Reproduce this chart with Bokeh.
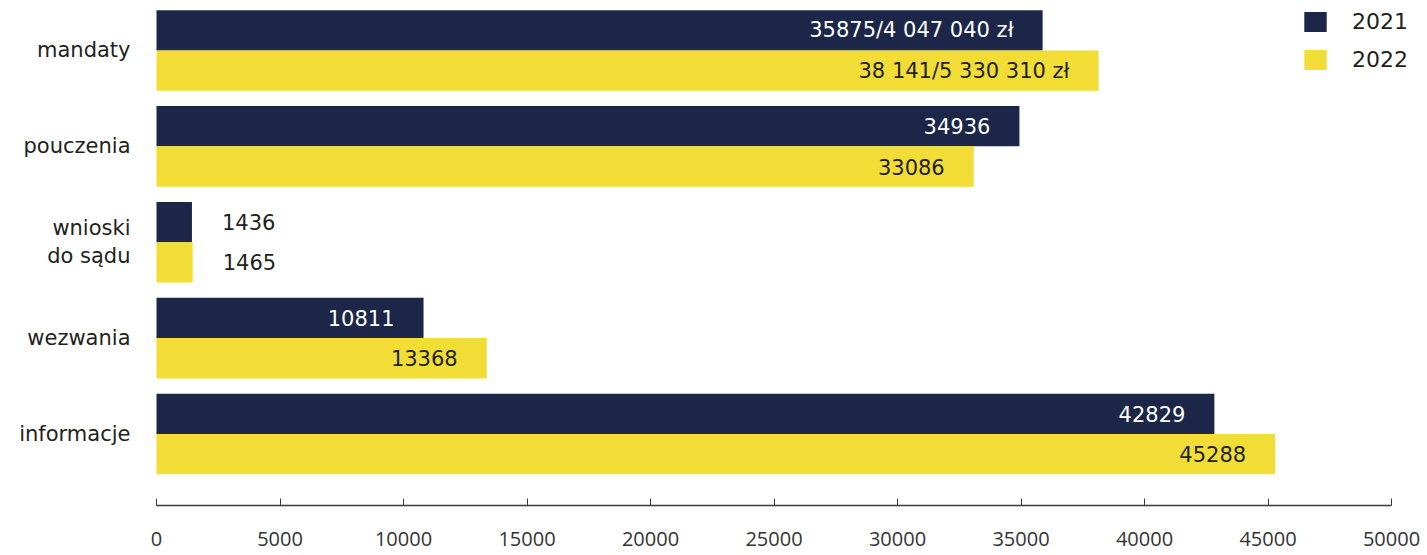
from bokeh.plotting import figure
from bokeh.models import ColumnDataSource, Range1d, FixedTicker, Legend, LegendItem
from bokeh.transform import dodge
from bokeh.core.properties import value
from bokeh.embed import file_html
from bokeh.resources import INLINE

categories = ["mandaty", "pouczenia", "wnioski\ndo sądu", "wezwania", "informacje"]
v2021 = [35875, 34936, 1436, 10811, 42829]
v2022 = [38141, 33086, 1465, 13368, 45288]
labels2021 = ["35875/4 047 040 zł", "34936", "1436", "10811", "42829"]
labels2022 = ["38 141/5 330 310 zł", "33086", "1465", "13368", "45288"]
ticks = list(range(0, 50001, 5000))
years = ["2021", "2022"]

NAVY = "#1b2649"
YELLOW = "#f1dd35"
DARK = "#231f20"
FONT = "DejaVu Sans"

idx = list(range(len(categories)))

def label_cols(vals, inside_color):
    xo, al, col = [], [], []
    for v in vals:
        if v < 5000:
            xo.append(30); al.append("left"); col.append(DARK)
        else:
            xo.append(-29); al.append("right"); col.append(inside_color)
    return xo, al, col

xo1, al1, c1 = label_cols(v2021, "white")
xo2, al2, c2 = label_cols(v2022, DARK)

src = ColumnDataSource(dict(idx=idx, cat=categories, v2021=v2021, v2022=v2022,
                            l2021=labels2021, l2022=labels2022,
                            xo1=xo1, al1=al1, c1=c1, xo2=xo2, al2=al2, c2=c2,
                            zero=[0] * len(idx)))

px_per = 0.0247
p = figure(frame_width=1427, frame_height=505, min_border=0, min_border_bottom=50,
           x_range=Range1d(-156 / px_per, (1427 - 156) / px_per),
           y_range=Range1d(4.746, -0.5215),
           output_backend="svg", toolbar_location=None, y_axis_location=None)
p.outline_line_color = None
p.xgrid.visible = False
p.ygrid.visible = False
p.background_fill_color = "white"
p.border_fill_color = "white"

r1 = p.hbar(y=dodge("idx", -0.21), left=0, right="v2021", height=0.42,
            color=NAVY, line_color=None, source=src)
r2 = p.hbar(y=dodge("idx", 0.21), left=0, right="v2022", height=0.42,
            color=YELLOW, line_color=None, source=src)

p.text(x="v2021", y=dodge("idx", -0.21), text="l2021", x_offset="xo1",
       text_align="al1", text_baseline="middle", text_color="c1",
       text_font=value(FONT), text_font_size="21px", source=src)
p.text(x="v2022", y=dodge("idx", 0.21), text="l2022", x_offset="xo2",
       text_align="al2", text_baseline="middle", text_color="c2",
       text_font=value(FONT), text_font_size="21px", source=src)

p.text(x="zero", y="idx", text="cat", x_offset=-26, text_align="right",
       text_baseline="middle", text_color=DARK, text_font=value(FONT),
       text_font_size="21px", text_line_height=1.15, source=src)

ax = p.xaxis[0]
ax.ticker = FixedTicker(ticks=ticks)
ax.bounds = (0, 50000)
ax.axis_line_color = "#3a3a3a"
ax.axis_line_width = 1.3
ax.major_tick_in = 7
ax.major_tick_out = 0
ax.major_tick_line_color = "#3a3a3a"
ax.minor_tick_line_color = None
ax.major_label_standoff = 26
ax.major_label_text_font = "Open Sans"
ax.major_label_text_font_size = "20px"
ax.major_label_text_color = "#333333"

legend = Legend(items=[LegendItem(label=years[0], renderers=[r1]),
                       LegendItem(label=years[1], renderers=[r2])],
                location=(1301, 433), orientation="vertical",
                glyph_width=28, glyph_height=25, spacing=13, padding=0,
                margin=0, label_standoff=23, label_height=25,
                label_text_font=FONT, label_text_font_size="22px",
                label_text_color=DARK, border_line_color=None,
                background_fill_alpha=0)
p.add_layout(legend, "center")

open("out.html", "w").write(file_html(p, INLINE))
